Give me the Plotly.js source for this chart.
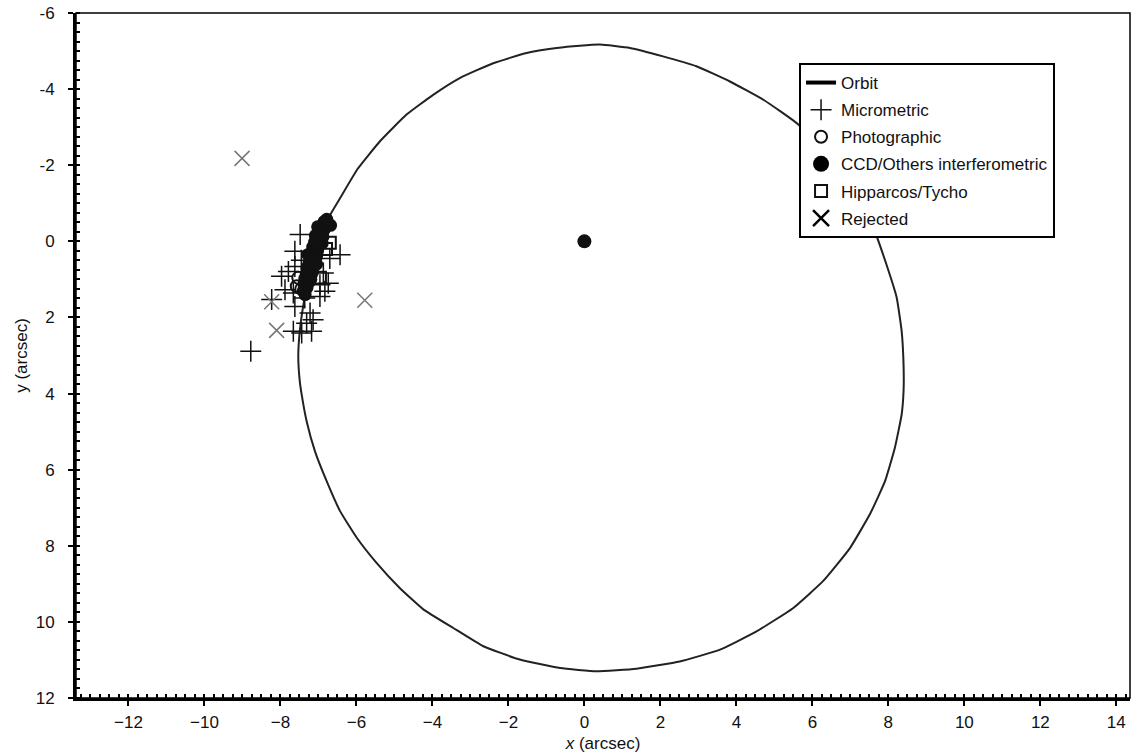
<!DOCTYPE html>
<html>
<head>
<meta charset="utf-8">
<script src="https://cdn.plot.ly/plotly-3.0.1.min.js"></script>
<style>html,body{margin:0;padding:0;background:#fff;}#chart{width:1132px;height:753px;}</style>
</head>
<body>
<div id="chart"></div>
<script>
// Orbit (arcsec)
const orbitX = [-6.74,-6.42,-5.97,-5.38,-4.68,-3.98,-3.28,-2.40,-1.52,-0.73,-0.12,0.41,1.20,2.07,2.95,3.83,4.71,5.63,6.67,7.64,7.95,8.22,8.35,8.40,8.40,8.35,8.17,7.91,7.51,6.99,6.28,5.49,4.53,3.57,2.51,1.37,0.32,-0.64,-1.70,-2.66,-3.45,-4.24,-4.86,-5.47,-5.99,-6.43,-6.78,-7.09,-7.31,-7.44,-7.49,-7.53,-7.49,-7.38,-7.22,-7.01,-6.74];
const orbitY = [-0.61,-1.15,-1.90,-2.63,-3.33,-3.85,-4.29,-4.68,-4.95,-5.08,-5.14,-5.17,-5.08,-4.86,-4.60,-4.20,-3.72,-3.07,-1.79,-0.26,0.61,1.48,2.36,3.24,3.94,4.55,5.43,6.31,7.18,8.06,8.93,9.64,10.25,10.73,11.04,11.23,11.30,11.21,10.99,10.64,10.16,9.67,9.11,8.45,7.79,7.09,6.31,5.52,4.73,4.03,3.68,3.02,2.36,1.58,0.79,0.00,-0.61];

// Micrometric measures
const microX = [-7.48,-6.43,-7.62,-7.97,-7.79,-7.62,-6.87,-6.74,-6.96,-7.88,-7.66,-7.36,-6.96,-6.83,-7.62,-7.22,-7.14,-7.31,-7.66,-7.44,-7.18,-8.23,-8.78,-6.70,-7.45];
const microY = [-0.18,0.35,0.26,0.92,0.79,0.66,0.83,1.10,1.14,1.27,1.36,1.49,1.45,1.31,1.71,1.88,2.06,2.15,2.36,2.41,2.36,1.53,2.89,0.45,0.50];

// Photographic measures
const photoX = [-7.53,-7.57,-7.45];
const photoY = [0.96,1.18,1.25];

// CCD / other interferometric measures
const ccdX = [-6.85,-6.80,-6.92,-6.98,-6.85,-6.95,-7.08,-6.95,-7.10,-6.98,-7.15,-7.02,-7.18,-7.05,-7.22,-7.10,-7.25,-7.12,-7.30,-7.15,-7.32,-7.20,-7.36,-7.25,-7.38,-7.30,-7.40,-7.35,-6.78,-7.02,-6.68,-7.02,-6.90,-7.05,-7.20,-7.28,-6.88];
const ccdY = [-0.52,-0.45,-0.40,-0.30,-0.30,-0.18,-0.15,-0.05,0.02,0.10,0.15,0.25,0.30,0.40,0.42,0.52,0.58,0.66,0.70,0.80,0.85,0.92,0.98,1.08,1.12,1.22,1.30,1.40,-0.58,-0.22,-0.42,-0.38,0.05,0.60,1.00,0.35,-0.12];

// Hipparcos / Tycho
const hipX = [-6.70,-6.96,-6.80];
const hipY = [0.04,0.96,0.20];

// Rejected
const rejX = [-9.01,-5.78,-8.23,-8.10];
const rejY = [-2.18,1.55,1.59,2.34];

// Primary star
const primX = [0];
const primY = [0];

// Tick labels
const xTickVals = [-12,-10,-8,-6,-4,-2,0,2,4,6,8,10,12,14];
const yTickVals = [-6,-4,-2,0,2,4,6,8,10,12];
const yTickText = ['-6','-4','-2','0','2','4','6','8','10','12'];

const traces = [
  {x: orbitX, y: orbitY, mode: 'lines', line: {color: '#222', width: 2, shape: 'spline', smoothing: 0.4}, showlegend: false, hoverinfo: 'skip'},
  {x: [null], y: [null], mode: 'lines', name: 'Orbit', line: {color: '#000', width: 4}, legendgroup: 'a'},
  {x: ccdX, y: ccdY, mode: 'markers', name: 'CCD/Others interferometric', marker: {symbol: 'circle', size: 13, color: '#111'}, showlegend: false},
  {x: microX, y: microY, mode: 'markers', name: 'Micrometric', marker: {symbol: 'cross-thin-open', size: 15, color: '#111', line: {color: '#111', width: 1.5}}, legendgroup: 'b'},
  {x: photoX, y: photoY, mode: 'markers', name: 'Photographic', marker: {symbol: 'circle-open', size: 12, color: '#111', line: {color: '#111', width: 2}}, legendgroup: 'c'},
  {x: [null], y: [null], mode: 'markers', name: 'CCD/Others interferometric', marker: {symbol: 'circle', size: 16, color: '#000'}, legendgroup: 'd'},
  {x: hipX, y: hipY, mode: 'markers', name: 'Hipparcos/Tycho', marker: {symbol: 'square-open', size: 12, color: '#111', line: {color: '#111', width: 2}}, legendgroup: 'e'},
  {x: rejX, y: rejY, mode: 'markers', name: 'Rejected', marker: {symbol: 'x-thin-open', size: 15, color: '#777', line: {color: '#777', width: 1.5}}, showlegend: false},
  {x: [null], y: [null], mode: 'markers', name: 'Rejected', marker: {symbol: 'x-thin-open', size: 16, color: '#000', line: {color: '#000', width: 2.5}}, legendgroup: 'f'},
  {x: primX, y: primY, mode: 'markers', marker: {symbol: 'circle', size: 14, color: '#111'}, showlegend: false}
];

const font = {family: 'Liberation Sans, Arial, sans-serif', color: '#111'};

const layout = {
  width: 1132, height: 753,
  margin: {l: 76, r: 2, t: 13, b: 55},
  paper_bgcolor: '#fff', plot_bgcolor: '#fff',
  font: Object.assign({size: 17}, font),
  showlegend: true,
  legend: {
    x: 0.686, y: 0.927, xanchor: 'left', yanchor: 'top',
    bgcolor: '#fff', bordercolor: '#000', borderwidth: 2,
    font: Object.assign({size: 17}, font),
    traceorder: 'grouped', tracegroupgap: 2,
    itemclick: false
  },
  xaxis: {
    range: [-13.38, 14.36], showgrid: false, zeroline: false,
    tickmode: 'array', tickvals: xTickVals,
    ticks: 'outside', ticklen: 5, tickwidth: 2, tickcolor: '#000',
    minor: {dtick: 0.25, ticks: 'inside', ticklen: 4, tickwidth: 2, tickcolor: '#000', showgrid: false},
    showline: true, linecolor: '#000', linewidth: 3,
    tickfont: Object.assign({size: 17}, font),
    ticklabelstandoff: 2,
    title: {text: '<i>x</i> (arcsec)', font: Object.assign({size: 17}, font), standoff: 6}
  },
  yaxis: {
    range: [12, -6], showgrid: false, zeroline: false,
    tickmode: 'array', tickvals: yTickVals, ticktext: yTickText,
    ticks: 'outside', ticklen: 5, tickwidth: 2, tickcolor: '#000',
    minor: {dtick: 0.25, ticks: 'inside', ticklen: 4, tickwidth: 2, tickcolor: '#000', showgrid: false},
    showline: true, linecolor: '#000', linewidth: 3,
    tickfont: Object.assign({size: 17}, font),
    ticklabelstandoff: 10,
    title: {text: 'y (arcsec)', font: Object.assign({size: 17}, font), standoff: 4}
  },
  shapes: [
    {type: 'rect', xref: 'paper', yref: 'paper', x0: 0, x1: 1, y0: 0, y1: 1, line: {color: '#000', width: 1.5}, layer: 'above'}
  ]
};

Plotly.newPlot('chart', traces, layout, {displayModeBar: false, staticPlot: true});
</script>
</body>
</html>
